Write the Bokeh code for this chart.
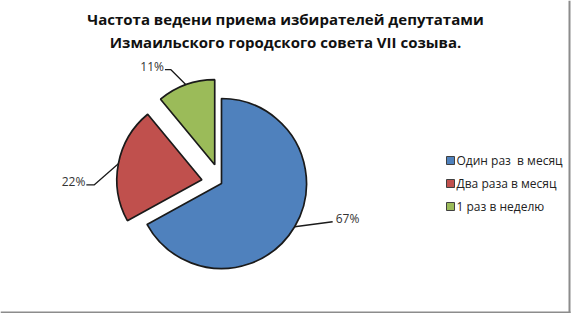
import numpy as np
from bokeh.plotting import figure
from bokeh.models import Range1d, ColumnDataSource
from bokeh.core.properties import value
from bokeh.embed import file_html
from bokeh.resources import INLINE

# ---- data ----
title_lines = ["Частота ведени приема избирателей депутатами",
               "Измаильского городского совета VII созыва."]
categories = ["Один раз\u00a0 в месяц", "Два раза в месяц", "1 раз в неделю"]
shares = [67, 22, 11]
pct_labels = ["67%", "22%", "11%"]

# ---- style ----
colors = ["#4F81BD", "#C0504D", "#9BBB59"]
explode = [0, 20, 20]
W, H = 572, 313
CX, CY, R = 221, 130, 85
FONT = "Open Sans"
# leader elbow (dx, dy) and horizontal tail length for each slice label
kinks = [(38, 5, 0), (-24, -21, -8), (-15, 15, -6)]

p = figure(width=W, height=H, x_range=Range1d(0, W), y_range=Range1d(0, H),
           output_backend="svg", toolbar_location=None, min_border=0,
           x_axis_type=None, y_axis_type=None)
p.grid.visible = False
p.outline_line_color = None
p.background_fill_color = "white"
p.border_fill_color = "white"

# ---- pie ----
vals = np.array(shares, dtype=float)
frac = vals / vals.sum()
cum = np.concatenate([[0], np.cumsum(frac)])
start = np.pi / 2 - cum[:-1] * 2 * np.pi
end = np.pi / 2 - cum[1:] * 2 * np.pi
mid = (start + end) / 2
ex = np.array(explode, dtype=float)
xs = CX + ex * np.cos(mid)
ys = CY + ex * np.sin(mid)

src = ColumnDataSource(dict(x=xs, y=ys, start=start, end=end, color=colors))
p.wedge(x="x", y="y", radius=R, start_angle="start", end_angle="end",
        direction="clock", fill_color="color", line_color="#1a1a1a",
        line_width=1.7, source=src)

# ---- leader lines and labels ----
for i, lab in enumerate(pct_labels):
    x0 = xs[i] + R * np.cos(mid[i])
    y0 = ys[i] + R * np.sin(mid[i])
    dx, dy, tail = kinks[i]
    x1, y1 = x0 + dx, y0 + dy
    x2 = x1 + tail
    p.line([x0, x1, x2], [y0, y1, y1], line_color="#1a1a1a", line_width=1.3)
    if dx >= 0:
        p.text(x=[x2 + 3], y=[y1 + 3], text=[lab], text_font=value(FONT),
               text_font_size="12px", text_color="#333333",
               text_align="left", text_baseline="middle")
    else:
        p.text(x=[x2 - 1], y=[y1 + 3], text=[lab], text_font=value(FONT),
               text_font_size="12px", text_color="#333333",
               text_align="right", text_baseline="middle")

# ---- title ----
p.text(x=[285, 285], y=[295, 272], text=title_lines, text_font=value(FONT),
       text_font_size="15px", text_font_style="bold", text_color="#111111",
       text_align="center", text_baseline="middle")

# ---- legend ----
ly = [153 - 23 * i for i in range(len(categories))]
p.rect(x=[450] * len(categories), y=ly, width=8, height=8, fill_color=colors,
       line_color="#404040", line_width=1)
p.text(x=[456] * len(categories), y=ly, text=categories, text_font=value(FONT),
       text_font_size="12px", text_color="#222222",
       text_align="left", text_baseline="middle")

# ---- frame edges (right and bottom) ----
p.segment(x0=[569, 0], y0=[313, 1], x1=[569, 570], y1=[0, 1],
          line_color="#8c8c8c", line_width=2)

open("out.html", "w").write(file_html(p, INLINE))
